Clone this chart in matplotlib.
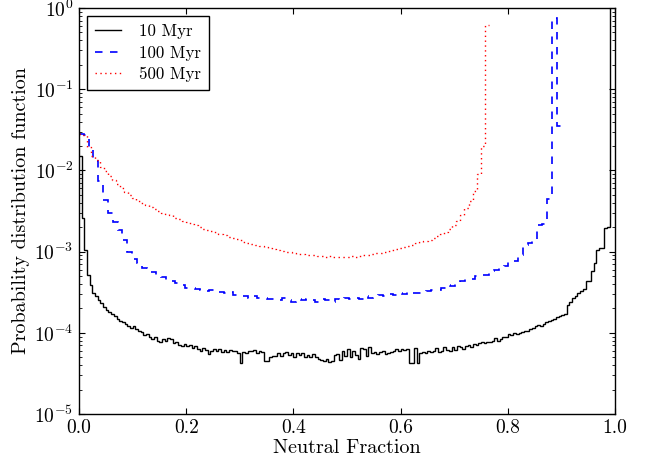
import numpy as np
import matplotlib
matplotlib.use("Agg")
import matplotlib.pyplot as plt

# ---------------- data ----------------
labels = ["10 Myr", "100 Myr", "500 Myr"]

# 10 Myr: 200 bins over [0, 1]
range_10 = (0.0, 1.0)
pdf_10 = [
    0.015, 2.6e-3, 1.05e-3, 5.1e-4, 3.9e-4, 3.1e-4, 2.8e-4, 2.5e-4, 2.3e-4, 2.1e-4,
    1.9e-4, 1.8e-4, 1.7e-4, 1.6e-4, 1.5e-4, 1.4e-4, 1.35e-4, 1.3e-4, 1.2e-4, 1.15e-4,
    1.2e-4, 1.1e-4, 1.05e-4, 1.03e-4, 9.5e-5, 9.8e-5, 9.0e-5, 8.5e-5, 8.8e-5, 8.0e-5,
    7.8e-5, 8.5e-5, 8.0e-5, 8.6e-5, 8.5e-5, 7.5e-5, 7.8e-5, 7.0e-5, 6.9e-5, 7.2e-5,
    6.8e-5, 7.0e-5, 6.5e-5, 6.9e-5, 6.3e-5, 6.0e-5, 6.5e-5, 6.2e-5, 5.5e-5, 6.0e-5,
    6.3e-5, 6.0e-5, 6.4e-5, 5.8e-5, 6.1e-5, 5.8e-5, 6.2e-5, 5.9e-5, 6.0e-5, 5.6e-5,
    4.3e-5, 5.8e-5, 5.6e-5, 6.0e-5, 5.9e-5, 6.1e-5, 5.7e-5, 6.0e-5, 5.8e-5, 4.5e-5,
    4.5e-5, 5.0e-5, 5.2e-5, 5.2e-5, 5.6e-5, 5.2e-5, 5.6e-5, 5.8e-5, 5.4e-5, 5.6e-5,
    5.0e-5, 5.6e-5, 5.3e-5, 5.6e-5, 5.0e-5, 5.4e-5, 5.1e-5, 5.5e-5, 5.0e-5, 4.8e-5,
    4.6e-5, 4.5e-5, 4.8e-5, 4.4e-5, 4.5e-5, 5.3e-5, 5.5e-5, 4.6e-5, 6.0e-5, 5.2e-5,
    6.3e-5, 5.0e-5, 6.0e-5, 5.3e-5, 4.8e-5, 6.5e-5, 6.4e-5, 5.2e-5, 6.6e-5, 5.6e-5,
    5.8e-5, 5.5e-5, 5.8e-5, 6.0e-5, 5.5e-5, 5.7e-5, 5.8e-5, 6.0e-5, 6.3e-5, 6.0e-5,
    6.4e-5, 6.2e-5, 6.4e-5, 4.3e-5, 4.3e-5, 6.5e-5, 4.3e-5, 5.6e-5, 5.8e-5, 5.6e-5,
    5.9e-5, 5.8e-5, 6.0e-5, 6.5e-5, 5.8e-5, 5.9e-5, 6.6e-5, 6.2e-5, 6.0e-5, 6.6e-5,
    6.2e-5, 6.8e-5, 6.6e-5, 6.3e-5, 6.8e-5, 7.0e-5, 6.6e-5, 7.2e-5, 7.0e-5, 7.4e-5,
    7.6e-5, 7.4e-5, 7.8e-5, 7.6e-5, 8.0e-5, 8.6e-5, 8.0e-5, 8.4e-5, 9.0e-5, 8.8e-5,
    9.6e-5, 9.4e-5, 1.0e-4, 9.7e-5, 1.0e-4, 1.03e-4, 1.05e-4, 1.05e-4, 1.1e-4, 1.16e-4,
    1.2e-4, 1.25e-4, 1.22e-4, 1.3e-4, 1.35e-4, 1.38e-4, 1.45e-4, 1.5e-4, 1.55e-4, 1.62e-4,
    1.66e-4, 1.7e-4, 2.2e-4, 2.4e-4, 2.7e-4, 2.8e-4, 3.1e-4, 3.3e-4, 3.5e-4, 4.3e-4,
    4.4e-4, 5.7e-4, 7.2e-4, 1.05e-3, 1.1e-3, 1.1e-3, 1.94e-3, 2.0e-3, 1.5, 1.5,
]

# 100 Myr: 100 bins over [0, 0.9]
range_100 = (0.0, 0.9)
pdf_100 = [
    0.028, 0.027, 0.0196, 0.013, 7.5e-3, 4.3e-3, 3.0e-3, 2.3e-3, 1.85e-3, 1.4e-3,
    1.0e-3, 8.2e-4, 7.2e-4, 6.3e-4, 5.9e-4, 5.6e-4, 5.0e-4, 4.8e-4, 4.5e-4, 4.4e-4,
    4.1e-4, 3.9e-4, 3.6e-4, 3.6e-4, 3.5e-4, 3.4e-4, 3.3e-4, 3.4e-4, 3.2e-4, 3.2e-4,
    3.1e-4, 3.2e-4, 2.9e-4, 2.8e-4, 2.8e-4, 2.7e-4, 2.8e-4, 2.7e-4, 2.7e-4, 2.6e-4,
    2.6e-4, 2.5e-4, 2.7e-4, 2.5e-4, 2.4e-4, 2.6e-4, 2.5e-4, 2.6e-4, 2.5e-4, 2.4e-4,
    2.6e-4, 2.5e-4, 2.4e-4, 2.6e-4, 2.5e-4, 2.7e-4, 2.6e-4, 2.7e-4, 2.6e-4, 2.8e-4,
    2.7e-4, 2.8e-4, 2.9e-4, 2.8e-4, 3.0e-4, 2.9e-4, 3.1e-4, 3.0e-4, 3.2e-4, 3.1e-4,
    3.1e-4, 3.2e-4, 3.3e-4, 3.4e-4, 3.4e-4, 3.6e-4, 3.9e-4, 3.8e-4, 4.0e-4, 4.3e-4,
    4.6e-4, 4.6e-4, 5.0e-4, 5.1e-4, 5.2e-4, 5.7e-4, 6.0e-4, 6.5e-4, 6.6e-4, 7.5e-4,
    7.6e-4, 9.1e-4, 1.2e-3, 1.26e-3, 1.4e-3, 2.1e-3, 2.2e-3, 4.5e-3, 0.75, 0.035,
]

# 500 Myr: 100 bins over [0, 0.765]
range_500 = (0.0, 0.765)
pdf_500 = [
    0.028, 0.027, 0.0196, 0.015, 0.0135, 0.011, 0.0098, 0.0085, 0.0076, 0.0068,
    0.0060, 0.0054, 0.0050, 0.0046, 0.0042, 0.0040, 0.0037, 0.0035, 0.0033, 0.0032,
    0.0030, 0.0029, 0.0028, 0.0026, 0.0025, 0.0024, 0.0023, 0.0022, 0.0021, 0.0020,
    0.0019, 0.00185, 0.0018, 0.00172, 0.00165, 0.0016, 0.00152, 0.00148, 0.00142, 0.00138,
    0.00132, 0.00128, 0.00125, 0.0012, 0.00117, 0.00114, 0.0011, 0.00107, 0.00104, 0.00102,
    0.00100, 0.00098, 0.00096, 0.00094, 0.00093, 0.00091, 0.00090, 0.00092, 0.00089, 0.00088,
    0.00087, 0.00088, 0.00086, 0.00087, 0.00086, 0.00087, 0.00088, 0.00087, 0.00089, 0.00090,
    0.00092, 0.00093, 0.00095, 0.00097, 0.00099, 0.00102, 0.00105, 0.00108, 0.00111, 0.00114,
    0.00118, 0.00122, 0.00126, 0.00131, 0.00135, 0.00140, 0.00146, 0.00154, 0.00163, 0.00175,
    0.00190, 0.0021, 0.0024, 0.0028, 0.0034, 0.0042, 0.0055, 0.0090, 0.020, 0.62,
]

# ---------------- styling ----------------
plt.rcParams.update({
    "font.family": "serif",
    "font.serif": ["cmr10", "DejaVu Serif"],
    "mathtext.fontset": "cm",
    "axes.formatter.use_mathtext": True,
    "axes.unicode_minus": False,
    "xtick.direction": "in",
    "ytick.direction": "in",
    "xtick.top": True,
    "ytick.right": True,
    "xtick.major.size": 4,
    "ytick.major.size": 4,
    "ytick.minor.size": 2,
    "xtick.minor.visible": False,
})

fig = plt.figure(figsize=(6.47, 4.61), dpi=100)
ax = fig.add_axes([79 / 647, 1 - 414 / 461, (615 - 79) / 647, (414 - 8) / 461])

def edges(rng, n):
    return np.linspace(rng[0], rng[1], n + 1)

ax.stairs(pdf_10, edges(range_10, len(pdf_10)), baseline=None,
          color="black", linewidth=1.0, linestyle="-", label=labels[0])
ax.stairs(pdf_100, edges(range_100, len(pdf_100)), baseline=None,
          color="blue", linewidth=1.2, linestyle=(0, (4.5, 4.5)), label=labels[1])
ax.stairs(pdf_500, edges(range_500, len(pdf_500)), baseline=None,
          color="red", linewidth=1.0, linestyle=(0, (1, 2.5)), label=labels[2])

ax.set_yscale("log")
ax.set_xlim(0, 1)
ax.set_ylim(1e-5, 1)
ax.set_xticks([0.0, 0.2, 0.4, 0.6, 0.8, 1.0])
ax.set_xticklabels(["0.0", "0.2", "0.4", "0.6", "0.8", "1.0"])
ax.tick_params(axis="both", which="major", labelsize=14, pad=4)

ax.set_xlabel("Neutral Fraction", fontsize=14.5, labelpad=1)
ax.set_ylabel("Probability distribution function", fontsize=14.5, labelpad=3)

leg = ax.legend(loc="upper left", fontsize=12.2, fancybox=False, framealpha=1,
                edgecolor="black", handlelength=1.5, borderpad=0.45,
                labelspacing=0.35, handletextpad=1.1, borderaxespad=0.5)
leg.get_frame().set_linewidth(1.0)

for sp in ax.spines.values():
    sp.set_linewidth(1.0)

fig.savefig("out.png", dpi=100)
